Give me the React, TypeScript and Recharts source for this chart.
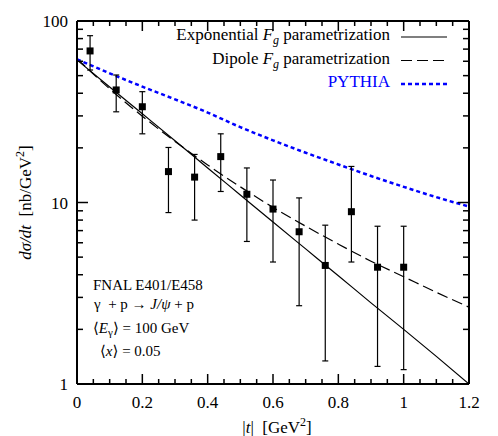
import React from 'react';
import { ComposedChart, Line, Scatter, ErrorBar, XAxis, YAxis, Legend } from 'recharts';

const FONT = '"Liberation Serif", "DejaVu Serif", serif';

// FNAL E401/E458 data points
const tPoints = [0.04, 0.12, 0.2, 0.28, 0.36, 0.44, 0.52, 0.6, 0.68, 0.76, 0.84, 0.92, 1.0];
const sigma = [68.4, 41.7, 33.7, 14.8, 13.8, 17.9, 11.1, 9.2, 6.9, 4.5, 8.9, 4.4, 4.4];
const sigmaLow = [53.7, 31.6, 23.9, 8.8, 8.0, 11.5, 6.1, 4.7, 2.7, 1.34, 4.7, 1.25, 1.2];
const sigmaHigh = [83, 50.4, 40.8, 20.1, 18.4, 23.9, 15.5, 13.3, 10.6, 7.5, 15.8, 7.4, 7.4];

// model curves
const curveT = [0, 0.1, 0.2, 0.3, 0.4, 0.5, 0.6, 0.7, 0.8, 0.9, 1.0, 1.1, 1.2];
const exponential = [61, 43.3, 30.8, 21.9, 15.5, 11.0, 7.8, 5.55, 3.95, 2.8, 2.0, 1.42, 1.0];
const dipole = [62, 42.3, 29.9, 21.7, 16.1, 12.2, 9.4, 7.4, 5.9, 4.75, 3.9, 3.2, 2.65];
const pythia = [61.5, 51.5, 43.5, 37, 31.3, 26, 22, 18.8, 16.2, 14, 12.2, 10.7, 9.5];

// axes
const xTicks = [0, 0.05, 0.1, 0.15, 0.2, 0.25, 0.3, 0.35, 0.4, 0.45, 0.5, 0.55, 0.6,
  0.65, 0.7, 0.75, 0.8, 0.85, 0.9, 0.95, 1.0, 1.05, 1.1, 1.15, 1.2];
const xMajor = [0, 0.2, 0.4, 0.6, 0.8, 1.0, 1.2];
const xLabels = ['0', '0.2', '0.4', '0.6', '0.8', '1', '1.2'];
const yTicks = [1, 2, 3, 4, 5, 6, 7, 8, 9, 10, 20, 30, 40, 50, 60, 70, 80, 90, 100];
const yMajor = [1, 10, 100];
const yLabels = ['1', '10', '100'];

const points = tPoints.map((t, i) => ({
  t,
  y: sigma[i],
  err: [sigma[i] - sigmaLow[i], sigmaHigh[i] - sigma[i]],
}));

const curves = curveT.map((t, i) => ({
  t,
  exponential: exponential[i],
  dipole: dipole[i],
  pythia: pythia[i],
}));

const seriesStyle: Record<string, { stroke: string; width: number; dash?: string }> = {
  exponential: { stroke: '#000', width: 1.2 },
  dipole: { stroke: '#000', width: 1.2, dash: '11 5' },
  pythia: { stroke: '#0000ff', width: 2.5, dash: '4 3' },
};

const majorIndex = (list: number[], v: number) => list.findIndex(m => Math.abs(m - v) < 1e-6);

const BottomTick = ({ x, y, payload }: any) => {
  const i = majorIndex(xMajor, payload.value);
  return (
    <g>
      <line x1={x} x2={x} y1={y} y2={y - (i >= 0 ? 10 : 5)} stroke="#000" strokeWidth={1.5} />
      {i >= 0 && (
        <text x={x} y={y + 24} textAnchor="middle" fontFamily={FONT} fontSize={17} fill="#000">
          {xLabels[i]}
        </text>
      )}
    </g>
  );
};

const TopTick = ({ x, y, payload }: any) => {
  const i = majorIndex(xMajor, payload.value);
  return <line x1={x} x2={x} y1={y} y2={y + (i >= 0 ? 10 : 5)} stroke="#000" strokeWidth={1.5} />;
};

const LeftTick = ({ x, y, payload }: any) => {
  const i = majorIndex(yMajor, payload.value);
  return (
    <g>
      <line x1={x} x2={x + (i >= 0 ? 11 : 6)} y1={y} y2={y} stroke="#000" strokeWidth={1.5} />
      {i >= 0 && (
        <text x={x - 9} y={y + 6} textAnchor="end" fontFamily={FONT} fontSize={17} fill="#000">
          {yLabels[i]}
        </text>
      )}
    </g>
  );
};

const RightTick = ({ x, y, payload }: any) => {
  const i = majorIndex(yMajor, payload.value);
  return <line x1={x} x2={x - (i >= 0 ? 11 : 6)} y1={y} y2={y} stroke="#000" strokeWidth={1.5} />;
};

const XTitle = ({ viewBox }: any) => {
  const cx = viewBox.x + viewBox.width / 2 + 4;
  const by = viewBox.y + 49;
  return (
    <text x={cx} y={by} textAnchor="middle" fontFamily={FONT} fontSize={17} fill="#000">
      |<tspan fontStyle="italic">t</tspan>|{'\u00a0\u00a0'}[GeV<tspan fontSize={12} dy={-7}>2</tspan>
      <tspan dy={7}>]</tspan>
    </text>
  );
};

const YTitle = ({ viewBox }: any) => {
  const x = viewBox.x + viewBox.width - 46;
  const y = viewBox.y + viewBox.height / 2;
  return (
    <text x={x} y={y} transform={`rotate(-90, ${x}, ${y})`} textAnchor="middle"
      fontFamily={FONT} fontSize={17} fill="#000">
      <tspan fontStyle="italic">d{'\u03c3'}/dt</tspan>{'\u00a0\u00a0'}[nb/GeV
      <tspan fontSize={12} dy={-7}>2</tspan>
      <tspan dy={7}>]</tspan>
    </text>
  );
};

const legendRows = [
  { key: 'exponential', base: 40, name: 'Exponential' },
  { key: 'dipole', base: 63.5, name: 'Dipole' },
  { key: 'pythia', base: 87, name: 'PYTHIA' },
];

const renderLegend = () => (
  <svg width={498} height={100} style={{ display: 'block' }}>
    {legendRows.map(r => {
      const s = seriesStyle[r.key];
      return (
        <g key={r.key}>
          {r.key === 'pythia' ? (
            <text x={390} y={r.base} textAnchor="end" fontFamily={FONT} fontSize={17} fill="#0000ff">
              PYTHIA
            </text>
          ) : (
            <text x={390} y={r.base} textAnchor="end" fontFamily={FONT} fontSize={17} fill="#000">
              {r.name} <tspan fontStyle="italic">F</tspan>
              <tspan fontStyle="italic" fontSize={12} dy={4}>g</tspan>
              <tspan dy={-4}> parametrization</tspan>
            </text>
          )}
          <line x1={401} x2={447} y1={r.base - 3} y2={r.base - 3} stroke={s.stroke}
            strokeWidth={s.width} strokeDasharray={s.dash} />
        </g>
      );
    })}
  </svg>
);

const Annotation = () => (
  <svg width={498} height={436} style={{ position: 'absolute', left: 0, top: 0, pointerEvents: 'none' }}>
    <g fontFamily={FONT} fontSize={15} fill="#000">
      <text x={93} y={290}>FNAL E401/E458</text>
      <text x={94} y={309}>
        {'\u03b3\u00a0\u00a0+ p \u2192 '}<tspan fontStyle="italic">J/{'\u03c8'}</tspan> + p
      </text>
      <text x={93} y={333}>
        {'\u27e8'}<tspan fontStyle="italic">E</tspan>
        <tspan fontSize={11} dy={3}>{'\u03b3'}</tspan>
        <tspan dy={-3}>{'\u27e9 = 100 GeV'}</tspan>
      </text>
      <text x={100} y={356}>
        {'\u27e8'}<tspan fontStyle="italic">x</tspan>{'\u27e9 = 0.05'}
      </text>
    </g>
  </svg>
);

const axisLine = { stroke: '#000', strokeWidth: 2 };

export default function App() {
  return (
    <div style={{ position: 'absolute', left: 0, top: 0, width: 498, height: 436, background: '#fff', fontFamily: FONT }}>
      <ComposedChart width={498} height={436} margin={{ top: 20, right: 28, bottom: 51, left: 76 }}>
        <XAxis dataKey="t" type="number" domain={[0, 1.2]} allowDataOverflow ticks={xTicks} interval={0}
          height={1} tickSize={0} tickMargin={0} tickLine={false} tick={<BottomTick />}
          axisLine={axisLine} label={<XTitle />} />
        <XAxis xAxisId="top" orientation="top" dataKey="t" type="number" domain={[0, 1.2]} allowDataOverflow
          ticks={xTicks} interval={0} height={1} tickSize={0} tickMargin={0} tickLine={false} tick={<TopTick />}
          axisLine={axisLine} />
        <YAxis type="number" scale="log" domain={[1, 100]} allowDataOverflow ticks={yTicks} interval={0}
          width={1} tickSize={0} tickMargin={0} tickLine={false} tick={<LeftTick />}
          axisLine={axisLine} label={<YTitle />} />
        <YAxis yAxisId="right" orientation="right" type="number" scale="log" domain={[1, 100]} allowDataOverflow
          ticks={yTicks} interval={0} width={1} tickSize={0} tickMargin={0} tickLine={false} tick={<RightTick />}
          axisLine={axisLine} />
        <Legend layout="horizontal" align="center" verticalAlign="middle" content={renderLegend}
          wrapperStyle={{ left: 0, top: 0, width: 498, height: 100 }} />
        {(['exponential', 'dipole', 'pythia'] as const).map(k => (
          <Line key={k} data={curves} dataKey={k} type="monotone" dot={false} activeDot={false}
            stroke={seriesStyle[k].stroke} strokeWidth={seriesStyle[k].width}
            strokeDasharray={seriesStyle[k].dash} isAnimationActive={false} />
        ))}
        <Scatter data={points} dataKey="y" legendType="none" isAnimationActive={false}
          shape={(p: any) => <rect x={p.cx - 3.5} y={p.cy - 3.5} width={7} height={7} fill="#000" />}>
          <ErrorBar dataKey="err" direction="y" width={3} stroke="#000" strokeWidth={1.2} isAnimationActive={false} />
        </Scatter>
      </ComposedChart>
      <Annotation />
    </div>
  );
}
